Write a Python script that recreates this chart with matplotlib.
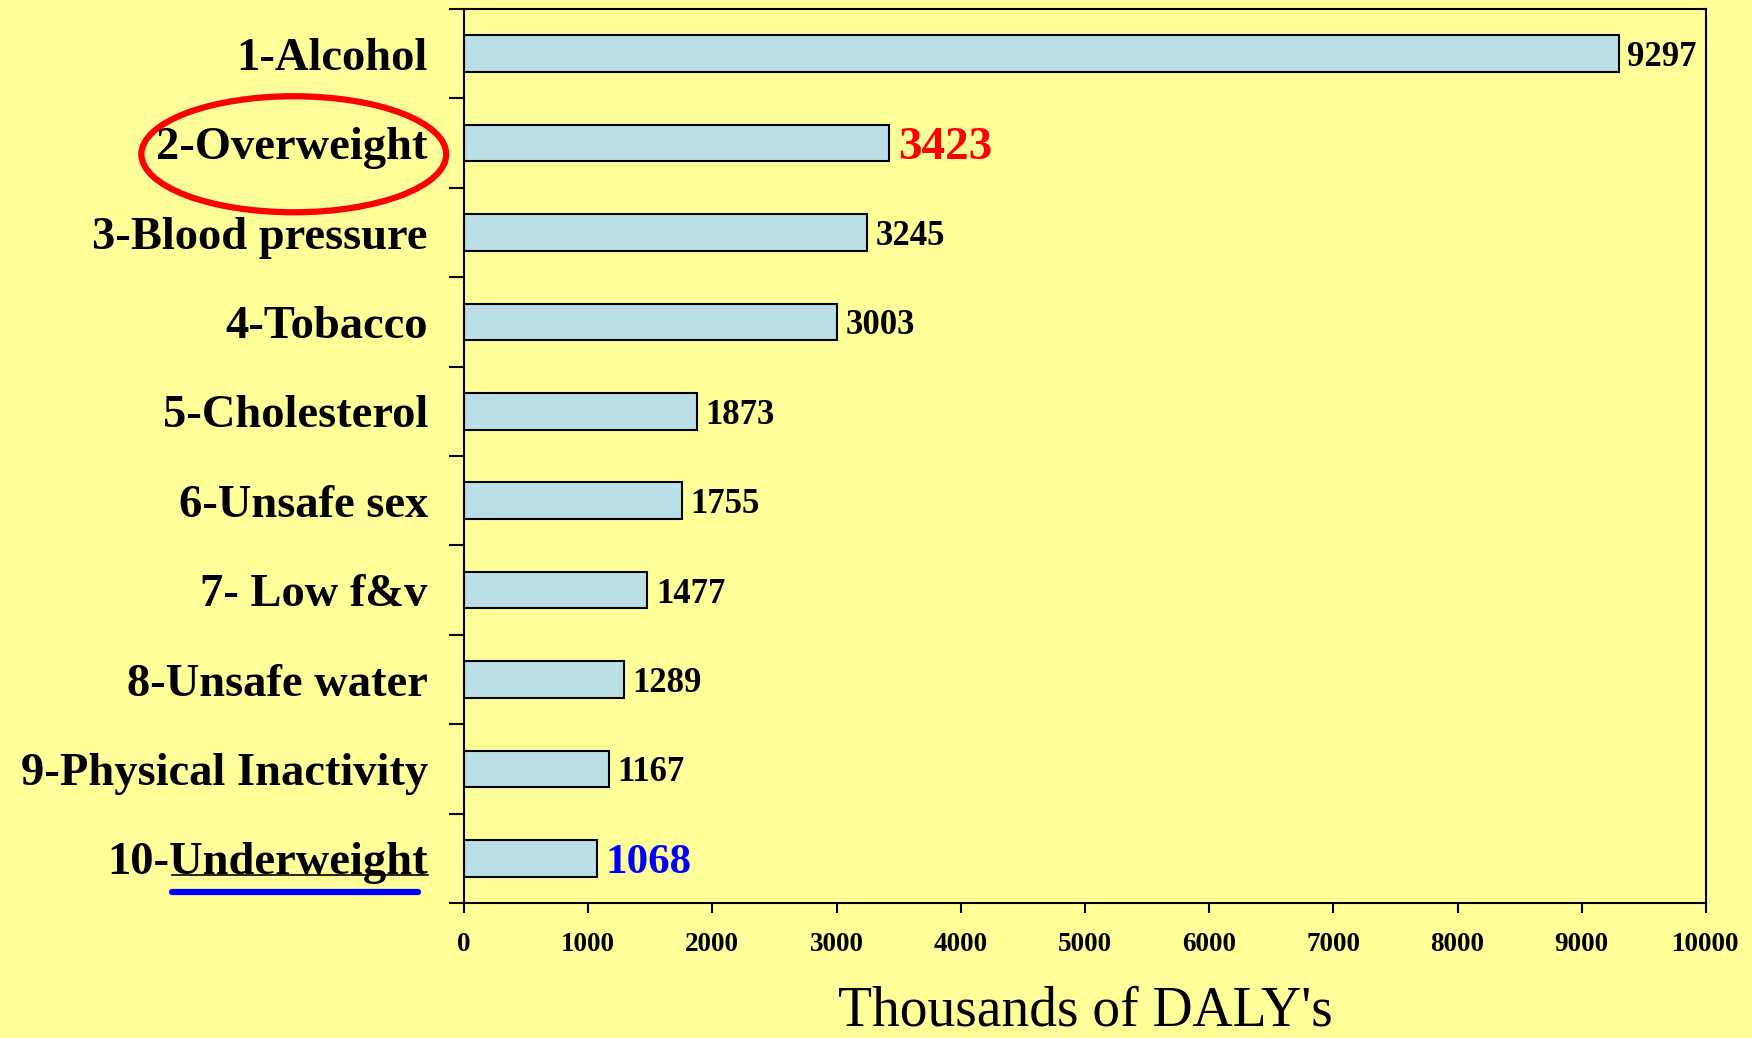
import matplotlib.pyplot as plt
from matplotlib.patches import Ellipse
from matplotlib.lines import Line2D
import numpy as np

categories = ['1-Alcohol', '2-Overweight', '3-Blood pressure', '4-Tobacco',
              '5-Cholesterol', '6-Unsafe sex', '7- Low f&v', '8-Unsafe water',
              '9-Physical Inactivity', '10-Underweight']
values = [9297, 3423, 3245, 3003, 1873, 1755, 1477, 1289, 1167, 1068]
value_colors = ['black', 'red', 'black', 'black', 'black', 'black',
                'black', 'black', 'black', 'blue']
value_sizes = [25, 34, 25, 25, 25, 25, 25, 25, 25, 31]
xticks = [0, 1000, 2000, 3000, 4000, 5000, 6000, 7000, 8000, 9000, 10000]

bg = '#FFFF99'
serif = ['Liberation Serif', 'DejaVu Serif']

fig = plt.figure(figsize=(17.52, 10.38), dpi=100, facecolor=bg)
ax = fig.add_axes([0.2648, 0.130, 0.7089, 0.8613], facecolor=bg)

y = np.arange(len(categories))
ax.barh(y, values, height=0.41, color='#BAE0E5', edgecolor='black', linewidth=1.5)
ax.set_ylim(len(categories) - 0.5, -0.5)
ax.set_xlim(0, 10000)

# value labels
for yi, v, c, s in zip(y, values, value_colors, value_sizes):
    ax.text(v + 70, yi, str(v), va='center_baseline', ha='left', color=c,
            fontsize=s, fontweight='bold', family=serif)

# y axis: labels at centres, tick marks at category boundaries
ax.set_yticks(y)
ax.set_yticklabels(categories, fontsize=33.5, fontweight='bold', family=serif)
ax.tick_params(axis='y', which='major', length=0, pad=26)
ax.set_yticks(np.arange(len(categories) + 1) - 0.5, minor=True)
ax.tick_params(axis='y', which='minor', length=10.5, width=1.5, direction='out')

ax.set_xticks(xticks)
ax.set_xticklabels([str(t) for t in xticks], fontsize=19.5, fontweight='bold', family=serif)
ax.tick_params(axis='x', length=7, width=1.5, direction='out', pad=14)

for sp in ax.spines.values():
    sp.set_linewidth(1.5)

ax.set_xlabel("Thousands of DALY's", fontsize=40, family=serif, labelpad=20)

# red ellipse round "2-Overweight"
fig.patches.append(Ellipse((0.1677, 0.8514), 0.1740, 0.1118, transform=fig.transFigure,
                           fill=False, edgecolor='red', linewidth=4.5))

# underline of "Underweight" and the blue stroke below it
fig.lines.append(Line2D([0.0982, 0.2443], [0.1570, 0.1570], transform=fig.transFigure,
                        color='black', linewidth=1.2))
fig.lines.append(Line2D([0.0982, 0.2386], [0.1409, 0.1409], transform=fig.transFigure,
                        color='blue', linewidth=4.5, solid_capstyle='round'))

fig.savefig('out.png', dpi=100, facecolor=bg)
